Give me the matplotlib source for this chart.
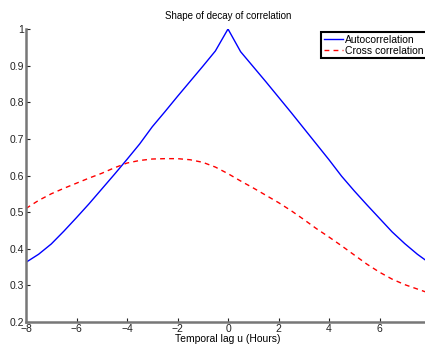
import numpy as np
import matplotlib
matplotlib.use('Agg')
import matplotlib.pyplot as plt

# --- data ---
lag = np.arange(-8, 8.5, 0.5)

# blue: autocorrelation (sharp peak at 0)
autocorr = [0.363, 0.385, 0.413, 0.448, 0.485, 0.523, 0.563, 0.603, 0.644,
            0.686, 0.733, 0.774, 0.816, 0.857, 0.898, 0.940, 1.0,
            0.938, 0.897, 0.856, 0.814, 0.772, 0.729, 0.686, 0.643,
            0.598, 0.558, 0.520, 0.483, 0.446, 0.414, 0.385, 0.360]

# red dashed: cross correlation
crosscorr = [0.51, 0.532, 0.55, 0.565, 0.579, 0.593, 0.606, 0.621, 0.634,
             0.641, 0.645, 0.646, 0.646, 0.643, 0.636, 0.623, 0.605,
             0.585, 0.566, 0.546, 0.526, 0.504, 0.48, 0.455, 0.432,
             0.408, 0.383, 0.358, 0.336, 0.317, 0.302, 0.29, 0.278]

xticks = [-8, -6, -4, -2, 0, 2, 4, 6]
yticks = [0.2, 0.3, 0.4, 0.5, 0.6, 0.7, 0.8, 0.9, 1.0]
ytick_labels = ['0.2', '0.3', '0.4', '0.5', '0.6', '0.7', '0.8', '0.9', '1']

plt.rcParams['font.family'] = ['Liberation Sans', 'DejaVu Sans']

W, H = 425, 345
fig = plt.figure(figsize=(W / 100, H / 100), dpi=100)
# axes in pixel terms: x=-8 at 26px, x=8 at 430px; y=0.2 at 322px, y=1 at 29px
ax = fig.add_axes([26 / W, (H - 322) / H, (430 - 26) / W, (322 - 29) / H])

ax.plot(lag, autocorr, color='#0000ff', lw=1.0, label='Autocorrelation')
ax.plot(lag, crosscorr, color='#ff0000', lw=1.0, ls=(0, (3.5, 3)),
        label='Cross correlation')

ax.set_xlim(-8, 8)
ax.set_ylim(0.2, 1.0)
ax.set_xticks(xticks)
ax.set_xticklabels([str(t).replace('-', '\u2212') for t in xticks])
ax.set_yticks(yticks)
ax.set_yticklabels(ytick_labels)
ax.tick_params(direction='in', length=3, width=0.8, labelsize=7.5,
               pad=1.5, colors='#222222')

for s in ['top', 'right']:
    ax.spines[s].set_visible(False)
for s in ['left', 'bottom']:
    ax.spines[s].set_color('#777777')
    ax.spines[s].set_linewidth(1.8)

fig.text(228 / W, 1 - 16 / H, 'Shape of decay of correlation',
         ha='center', va='center', fontsize=7)
fig.text(228 / W, 1 - 339 / H, 'Temporal lag u (Hours)',
         ha='center', va='center', fontsize=7.5)

leg = ax.legend(loc='upper left', bbox_to_anchor=(321 / W, 1 - 32 / H),
                bbox_transform=fig.transFigure, fontsize=7.5,
                handlelength=1.9, handletextpad=0.2, borderpad=0.25,
                labelspacing=0.1, borderaxespad=0, fancybox=False,
                framealpha=1)
leg.get_frame().set_edgecolor('black')
leg.get_frame().set_linewidth(1.5)

fig.savefig('out.png', dpi=100)
